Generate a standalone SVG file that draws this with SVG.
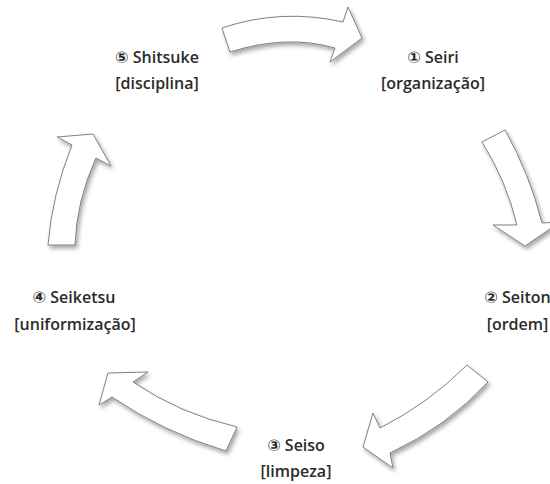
<svg xmlns="http://www.w3.org/2000/svg" width="550" height="484" viewBox="0 0 550 484">
  <defs>
    <filter id="shadow" x="-20%" y="-20%" width="150%" height="150%">
      <feDropShadow dx="2" dy="3" stdDeviation="2" flood-color="#000" flood-opacity="0.35"/>
    </filter>
  </defs>
  <style>
    .arrow { fill: #ffffff; stroke: #808080; stroke-width: 1; stroke-linejoin: miter; filter: url(#shadow); }
    .label { font-family: "Open Sans", "DejaVu Sans", sans-serif; font-size: 16px; font-weight: 600; fill: #2b2b2b; text-anchor: middle; }
  </style>
  <rect width="550" height="484" fill="#ffffff"/>

  <!-- curved block arrows of the cycle -->
  <g id="connectors">
    <path class="arrow" d="M222,28 Q281,8 343,22 L348,7 L362,38 L330,62 L335,48 Q287,34 230,52 Z"/>
    <path class="arrow" d="M505,130 Q530,175 542,223 L560,222 L525,246 L493,225 L517,225 Q506,180 482,142 Z"/>
    <path class="arrow" d="M467,365 Q428.5,403.5 380,428 L373,413 L363,447 L393,468 L390,453 Q447,426.5 488,382 Z"/>
    <path class="arrow" d="M237,427 Q179,413.5 133,382 L148,372 L108,373 L99,405 L112,397 Q163,432 226,451 Z"/>
    <path class="arrow" d="M48,245 Q52,195 72,145 L57,137 L93,134 L111,166 L96,158 Q76.5,200.5 75,245 Z"/>
  </g>

  <g id="seiri">
    <text class="label" x="433" y="63">① Seiri</text>
    <text class="label" x="433" y="89">[organização]</text>
  </g>
  <g id="seiton">
    <text class="label" x="517.5" y="303">② Seiton</text>
    <text class="label" x="517.5" y="330">[ordem]</text>
  </g>
  <g id="seiso">
    <text class="label" x="296" y="451">③ Seiso</text>
    <text class="label" x="296" y="477">[limpeza]</text>
  </g>
  <g id="seiketsu">
    <text class="label" x="74" y="303">④ Seiketsu</text>
    <text class="label" x="75" y="330">[uniformização]</text>
  </g>
  <g id="shitsuke">
    <text class="label" x="157" y="63">⑤ Shitsuke</text>
    <text class="label" x="157" y="89">[disciplina]</text>
  </g>
</svg>
